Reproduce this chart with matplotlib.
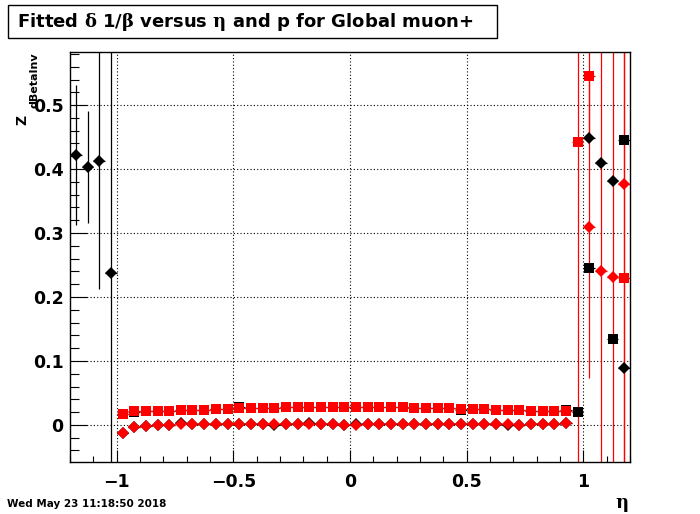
import numpy as np
import matplotlib
matplotlib.use('Agg')
import matplotlib.pyplot as plt
from matplotlib.ticker import MultipleLocator, FuncFormatter
from matplotlib.patches import Rectangle

plt.rcParams['font.family'] = ['DejaVu Sans']
plt.rcParams['font.weight'] = 'bold'
plt.rcParams['mathtext.fontset'] = 'custom'
plt.rcParams['mathtext.rm'] = 'DejaVu Serif'
plt.rcParams['mathtext.it'] = 'DejaVu Serif'
plt.rcParams['mathtext.bf'] = 'DejaVu Serif'

nan = np.nan

# eta bin centres
eta_bins = [-1.175, -1.125, -1.075, -1.025,
            -0.975, -0.925, -0.875, -0.825, -0.775, -0.725, -0.675, -0.625,
            -0.575, -0.525, -0.475, -0.425, -0.375, -0.325, -0.275, -0.225,
            -0.175, -0.125, -0.075, -0.025, 0.025, 0.075, 0.125, 0.175,
            0.225, 0.275, 0.325, 0.375, 0.425, 0.475, 0.525, 0.575,
            0.625, 0.675, 0.725, 0.775, 0.825, 0.875, 0.925,
            0.975, 1.025, 1.075, 1.125, 1.175]

# red squares
red_sq = [nan, nan, nan, nan,
          0.017, 0.021, 0.022, 0.022, 0.022, 0.023, 0.0235, 0.0235,
          0.025, 0.025, 0.026, 0.0265, 0.0265, 0.027, 0.0275, 0.0275,
          0.028, 0.028, 0.028, 0.028, 0.028, 0.028, 0.0275, 0.0275,
          0.0275, 0.027, 0.026, 0.026, 0.026, 0.025, 0.0245, 0.0245,
          0.0235, 0.0235, 0.0235, 0.022, 0.022, 0.0215, 0.021,
          0.442, 0.545, nan, nan, 0.229]
red_sq_err = [0, 0, 0, 0,
              0.001, 0.001, 0.001, 0.001, 0.001, 0.001, 0.001, 0.001,
              0.001, 0.001, 0.001, 0.001, 0.001, 0.001, 0.001, 0.001,
              0.001, 0.001, 0.001, 0.001, 0.001, 0.001, 0.001, 0.001,
              0.001, 0.001, 0.001, 0.001, 0.001, 0.001, 0.001, 0.001,
              0.001, 0.001, 0.001, 0.001, 0.001, 0.001, 0.001,
              0.65, 0.1, 0, 0, 0.5]

# red diamonds
red_di = [nan, nan, nan, nan,
          -0.013, -0.004, -0.002, 0.0, 0.0, 0.001, 0.0015, 0.0015,
          0.0015, 0.0015, 0.0015, 0.0015, 0.0015, 0.001, 0.001, 0.0015,
          0.0015, 0.001, 0.001, 0.0005, 0.0005, 0.001, 0.001, 0.0015,
          0.0015, 0.0015, 0.001, 0.001, 0.0015, 0.0015, 0.001, 0.001,
          0.001, 0.001, 0.0005, 0.001, 0.001, 0.0015, 0.003,
          nan, 0.309, 0.240, 0.231, 0.376]
red_di_err = [0, 0, 0, 0,
              0.001, 0.001, 0.001, 0.001, 0.001, 0.001, 0.001, 0.001,
              0.001, 0.001, 0.001, 0.001, 0.001, 0.001, 0.001, 0.001,
              0.001, 0.001, 0.001, 0.001, 0.001, 0.001, 0.001, 0.001,
              0.001, 0.001, 0.001, 0.001, 0.001, 0.001, 0.001, 0.001,
              0.001, 0.001, 0.001, 0.001, 0.001, 0.001, 0.001,
              0, 0.236, 0.5, 0.5, 0.5]

# black squares
blk_sq = [nan, nan, nan, nan,
          0.017, 0.0195, 0.022, 0.022, 0.022, 0.023, 0.0235, 0.0235,
          0.025, 0.025, 0.0275, 0.0265, 0.0265, 0.027, 0.0275, 0.0275,
          0.028, 0.028, 0.028, 0.028, 0.028, 0.028, 0.0275, 0.0275,
          0.0275, 0.027, 0.026, 0.026, 0.026, 0.0235, 0.0245, 0.0245,
          0.0235, 0.0235, 0.0235, 0.022, 0.022, 0.0215, 0.0225,
          0.020, 0.246, nan, 0.135, 0.446]
blk_sq_err = [0, 0, 0, 0,
              0.001, 0.001, 0.001, 0.001, 0.001, 0.001, 0.001, 0.001,
              0.001, 0.001, 0.001, 0.001, 0.001, 0.001, 0.001, 0.001,
              0.001, 0.001, 0.001, 0.001, 0.001, 0.001, 0.001, 0.001,
              0.001, 0.001, 0.001, 0.001, 0.001, 0.001, 0.001, 0.001,
              0.001, 0.001, 0.001, 0.001, 0.001, 0.001, 0.001,
              0.002, 0.005, 0, 0.005, 0.005]

# black diamonds
blk_di = [0.422, 0.403, 0.413, 0.2375,
          -0.013, -0.004, -0.002, 0.0, 0.0, 0.0025, 0.0015, 0.0015,
          0.0015, 0.0015, 0.001, 0.001, 0.001, 0.0005, 0.001, 0.0015,
          0.0025, 0.001, 0.001, 0.0005, 0.0015, 0.001, 0.001, 0.0015,
          0.0015, 0.0015, 0.001, 0.002, 0.0015, 0.0015, 0.001, 0.001,
          0.002, 0.0005, 0.0005, 0.002, 0.001, 0.0015, 0.003,
          nan, 0.448, 0.410, 0.382, 0.089]
blk_di_err = [0.11, 0.087, 0.2, 0.4,
              0.001, 0.001, 0.001, 0.001, 0.001, 0.001, 0.001, 0.001,
              0.001, 0.001, 0.001, 0.001, 0.001, 0.001, 0.001, 0.001,
              0.001, 0.001, 0.001, 0.001, 0.001, 0.001, 0.001, 0.001,
              0.001, 0.001, 0.001, 0.001, 0.001, 0.001, 0.001, 0.001,
              0.001, 0.001, 0.001, 0.001, 0.001, 0.001, 0.001,
              0, 0.005, 0.005, 0.005, 0.005]

bin_half = 0.025

fig = plt.figure(figsize=(7.0, 5.14), dpi=100)
ax = fig.add_axes([0.1, 0.1012, 0.8, 0.7976])

series = [
    (blk_di, blk_di_err, 'black', 'D', 6.0, 3),
    (blk_sq, blk_sq_err, 'black', 's', 6.8, 3),
    (red_sq, red_sq_err, 'red', 's', 6.8, 4),
    (red_di, red_di_err, 'red', 'D', 6.0, 4),
]
for vals, errs, col, mk, ms, z in series:
    x = np.array(eta_bins)
    y = np.array(vals, dtype=float)
    ok = ~np.isnan(y)
    ax.errorbar(x[ok], y[ok], yerr=np.array(errs)[ok], xerr=bin_half,
                fmt='none', ecolor=col, elinewidth=0.9, capsize=0, zorder=2)
    ax.plot(x[ok], y[ok], linestyle='none', marker=mk, ms=ms, color=col,
            markeredgewidth=0, zorder=z)

ax.set_xlim(-1.2, 1.2)
ax.set_ylim(-0.058, 0.583)

ax.xaxis.set_major_locator(MultipleLocator(0.5))
ax.xaxis.set_minor_locator(MultipleLocator(0.1))
ax.yaxis.set_major_locator(MultipleLocator(0.1))
ax.yaxis.set_minor_locator(MultipleLocator(0.02))
fmt = FuncFormatter(lambda v, p: ('%g' % round(v, 3)).replace('-', '\u2212'))
ax.xaxis.set_major_formatter(fmt)
ax.yaxis.set_major_formatter(fmt)

ax.tick_params(axis='x', which='major', direction='in', length=8.6, width=0.8,
               labelsize=12.5, pad=8, top=False)
ax.tick_params(axis='x', which='minor', direction='in', length=4.3, width=0.8, top=False)
ax.tick_params(axis='y', which='major', direction='in', length=12, width=0.8,
               labelsize=12.5, pad=4.5, right=False)
ax.tick_params(axis='y', which='minor', direction='in', length=6.3, width=0.8, right=False)
for lab in ax.get_xticklabels() + ax.get_yticklabels():
    lab.set_fontweight('bold')

ax.grid(True, which='major', linestyle=(0, (1, 2)), color='black', linewidth=0.8)
ax.set_axisbelow(True)
for sp in ax.spines.values():
    sp.set_linewidth(1.0)

# title box
W, H = 700.0, 514.0
fig.patches.append(Rectangle((8 / W, 1 - 38 / H), 489 / W, 33 / H,
                             transform=fig.transFigure, facecolor='white',
                             edgecolor='black', linewidth=1.0))
fig.text(17 / W, 1 - 22 / H,
         r'Fitted $\delta$ 1/$\beta$ versus $\eta$ and p for Global muon+',
         fontsize=13, fontweight='bold', va='center', ha='left')

# axis labels
fig.text(622 / W, 1 - 505 / H, r'$\eta$', fontsize=13, ha='center', va='center')
fig.text(22 / W, 1 - 120 / H, 'Z', fontsize=10, fontweight='bold',
         rotation=90, ha='center', va='center')
fig.text(35 / W, 1 - 52 / H, 'dBetaInv', fontsize=8, fontweight='bold',
         rotation=90, ha='center', va='top')

fig.text(7 / W, 1 - 504 / H, 'Wed May 23 11:18:50 2018', fontsize=7.5,
         fontweight='bold', ha='left', va='center')

fig.savefig('out.png', dpi=100)
